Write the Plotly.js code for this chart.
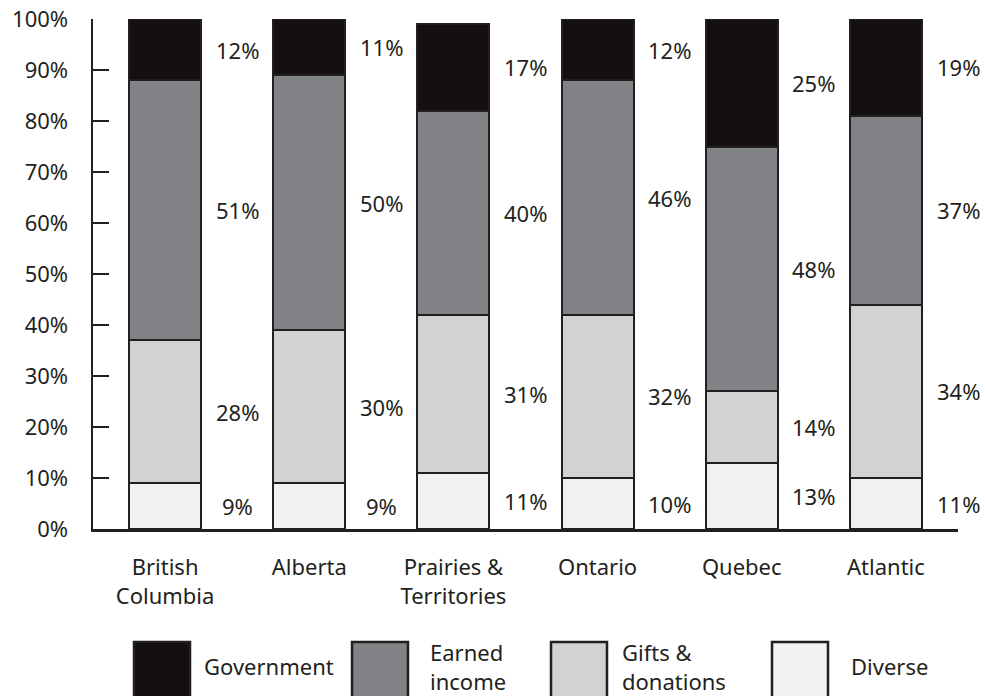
<!DOCTYPE html>
<html>
<head>
<meta charset="utf-8">
<script src="https://cdn.plot.ly/plotly-3.0.1.min.js"></script>
<style>html,body{margin:0;padding:0;background:#fff;}#chart{width:985px;height:696px;}</style>
</head>
<body>
<div id="chart"></div>
<script>
// ---- data ----
var regions = ["British<br>Columbia", "Alberta", "Prairies &<br>Territories", "Ontario", "Quebec", "Atlantic"];
var seriesNames = ["Diverse", "Gifts & donations", "Earned income", "Government"];
var legendLabels = ["Government", "Earned<br>income", "Gifts &<br>donations", "Diverse"];
var diverse   = [9, 9, 11, 10, 13, 10];
var gifts     = [28, 30, 31, 32, 14, 34];
var earned    = [51, 50, 40, 46, 48, 37];
var government= [12, 11, 17, 12, 25, 19];
var diverseLabels    = ["9%", "9%", "11%", "10%", "13%", "11%"];
var giftsLabels      = ["28%", "30%", "31%", "32%", "14%", "34%"];
var earnedLabels     = ["51%", "50%", "40%", "46%", "48%", "37%"];
var governmentLabels = ["12%", "11%", "17%", "12%", "25%", "19%"];
var yTickVals = [0, 10, 20, 30, 40, 50, 60, 70, 80, 90, 100];
var yTickText = ["0%", "10%", "20%", "30%", "40%", "50%", "60%", "70%", "80%", "90%", "100%"];

// ---- styling ----
var colors = ["#f1f1f2", "#d1d2d4", "#808285", "#141011"];
var outline = "#231f20";
var FONT = "Noto Sans, sans-serif";
var FS = 22;

var seriesVals = [diverse, gifts, earned, government];
var seriesLabels = [diverseLabels, giftsLabels, earnedLabels, governmentLabels];

var traces = seriesVals.map(function (vals, k) {
  return {
    type: "bar",
    x: regions,
    y: vals,
    name: seriesNames[k],
    marker: {color: colors[k], line: {color: outline, width: 2}},
    width: 0.5,
    hoverinfo: "skip",
    showlegend: false
  };
});

// value labels placed in gap to the right of each bar, at segment centre
var annotations = [];
for (var i = 0; i < regions.length; i++) {
  var base = 0;
  for (var k = 0; k < seriesVals.length; k++) {
    var v = seriesVals[k][i];
    annotations.push({
      x: i + 0.5, y: base + v / 2, xref: "x", yref: "y",
      text: seriesLabels[k][i], showarrow: false,
      font: {family: FONT, size: FS, color: outline},
      xanchor: "center", yanchor: "middle"
    });
    base += v;
  }
}

// custom legend with large swatches (pixel layout -> paper coords)
var L = 93, R = 958, T = 19, B = 529;
function px(x) { return (x - L) / (R - L); }
function py(y) { return (B - y) / (B - T); }
var legendColors = [colors[3], colors[2], colors[1], colors[0]];
var swatchX = [134, 352, 551, 772];
var textX = [202, 428, 620, 849];
var shapes = [];
for (var j = 0; j < legendLabels.length; j++) {
  shapes.push({
    type: "rect", xref: "paper", yref: "paper",
    x0: px(swatchX[j]), x1: px(swatchX[j] + 56),
    y0: py(642), y1: py(702),
    fillcolor: legendColors[j], line: {color: outline, width: 2.5}
  });
  annotations.push({
    xref: "paper", yref: "paper", x: px(textX[j]), y: py(666),
    text: legendLabels[j], showarrow: false, align: "left",
    xanchor: "left", yanchor: "middle",
    font: {family: FONT, size: FS, color: outline}
  });
}

var layout = {
  width: 985, height: 696,
  margin: {l: L, r: 985 - R, t: T, b: 696 - B},
  paper_bgcolor: "#ffffff", plot_bgcolor: "#ffffff",
  barmode: "stack",
  showlegend: false,
  font: {family: FONT, size: FS, color: outline},
  xaxis: {
    type: "category", range: [-0.5, 5.5],
    showline: true, linecolor: outline, linewidth: 2.5,
    ticks: "", showgrid: false, zeroline: false,
    ticklabelstandoff: 17,
    tickfont: {family: FONT, size: FS, color: outline}
  },
  yaxis: {
    range: [0, 100], showline: true, linecolor: outline, linewidth: 2.5,
    ticks: "inside", ticklen: 16, tickwidth: 1.5, tickcolor: outline,
    tickvals: yTickVals, ticktext: yTickText,
    showgrid: false, zeroline: false,
    ticklabelstandoff: 18,
    tickfont: {family: FONT, size: FS, color: outline}
  },
  annotations: annotations,
  shapes: shapes
};

Plotly.newPlot("chart", traces, layout, {displayModeBar: false, staticPlot: true});
</script>
</body>
</html>
